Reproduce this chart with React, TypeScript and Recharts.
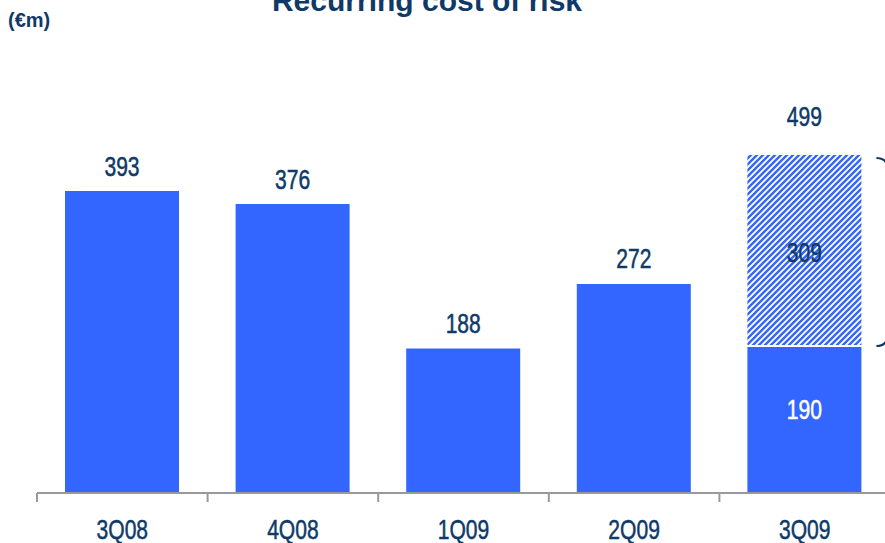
import React from "react"
import { BarChart, Bar, XAxis, YAxis, LabelList } from "recharts"

// Werte aus dem Bild
const quarters = ["3Q08", "4Q08", "1Q09", "2Q09", "3Q09"]
const costOfRisk = [393, 376, 188, 272, 190]
// gestreifter Anteil 3Q09: Beschriftung 309, gezeichnet nicht maßstabsgetreu (~250)
const hatchedDrawn = [null, null, null, null, 250]
const hatchedLabel = [null, null, null, null, 309]
const totalLabel = [null, null, null, null, 499]

const data = quarters.map((q, i) => ({
  quarter: q,
  cost: costOfRisk[i],
  hatched: hatchedDrawn[i],
  hatchedLabel: hatchedLabel[i],
  total: totalLabel[i],
}))

const W = 890
const H = 543
const LEFT = 37
const NAVY = "#0f3a68"
const BLUE = "#3366ff"
const FONT = "'Liberation Sans', Arial, sans-serif"
const BAND = (W - LEFT) / quarters.length

// schmale Schrift nachgebildet: Liberation Sans horizontal gestaucht
function Narrow({ x, y, fill = NAVY, children }: any) {
  return (
    <text
      transform={`translate(${x},${y}) scale(0.78,1)`}
      textAnchor="middle"
      dominantBaseline="central"
      fill={fill}
      stroke={fill}
      strokeWidth={0.5}
      fontFamily={FONT}
      fontSize={27}
    >
      {children}
    </text>
  )
}

function QuarterTick(props: any) {
  const { x, y, payload } = props
  return (
    <g>
      <line x1={x - BAND / 2} x2={x - BAND / 2} y1={y - 8} y2={y + 1} stroke="#999" strokeWidth={2} />
      <Narrow x={x} y={y + 29}>{payload.value}</Narrow>
    </g>
  )
}

function CostLabel(props: any) {
  const { x, y, width, height, index } = props
  const v = costOfRisk[index]
  if (hatchedDrawn[index] != null) {
    return <Narrow x={x + width / 2} y={y + height / 2 - 10} fill="#fff">{v}</Narrow>
  }
  return <Narrow x={x + width / 2} y={y - 25}>{v}</Narrow>
}

function HatchedLabel(props: any) {
  const { x, y, width, height, index } = props
  if (hatchedDrawn[index] == null) return null
  const bx = x + width + 15
  const top = y + 3
  const bot = y + height - 1
  return (
    <g>
      <Narrow x={x + width / 2} y={y + height / 2 + 2}>{hatchedLabel[index]}</Narrow>
      <Narrow x={x + width / 2} y={y - 38}>{totalLabel[index]}</Narrow>
      <path
        d={`M${bx},${top} Q${bx + 12},${top} ${bx + 12},${top + 14} L${bx + 12},${bot - 14} Q${bx + 12},${bot} ${bx},${bot}`}
        fill="none"
        stroke={NAVY}
        strokeWidth={2}
      />
    </g>
  )
}

function HatchedShape(props: any) {
  const { x, y, width, height } = props
  if (!height) return null
  return <rect x={x} y={y} width={width} height={Math.max(height - 2, 0)} fill="url(#stripes)" />
}

export default function App() {
  return (
    <div style={{ position: "absolute", left: 0, top: 0, width: 885, height: H, overflow: "hidden", background: "#fff" }}>
      <BarChart width={W} height={H} data={data} margin={{ top: 32, right: 0, left: LEFT, bottom: 0 }} barSize={114}>
        <defs>
          <pattern id="stripes" patternUnits="userSpaceOnUse" width="6" height="6">
            <rect width="6" height="6" fill="#fff" />
            <path d="M-1.5,1.5 L1.5,-1.5 M0,6 L6,0 M4.5,7.5 L7.5,4.5" stroke={BLUE} strokeWidth={2.4} />
          </pattern>
        </defs>
        <XAxis
          dataKey="quarter"
          axisLine={{ stroke: "#999", strokeWidth: 2 }}
          tickLine={false}
          tick={<QuarterTick />}
          height={50}
          interval={0}
        />
        <YAxis hide domain={[0, 600]} />
        <Bar dataKey="cost" stackId="a" fill={BLUE} isAnimationActive={false}>
          <LabelList dataKey="cost" content={<CostLabel />} />
        </Bar>
        <Bar dataKey="hatched" stackId="a" fill={BLUE} shape={<HatchedShape />} isAnimationActive={false}>
          <LabelList dataKey="hatched" content={<HatchedLabel />} />
        </Bar>
      </BarChart>
      <svg width={885} height={40} style={{ position: "absolute", left: 0, top: 0 }}>
        <text x={427} y={11} textAnchor="middle" fill={NAVY} fontFamily={FONT} fontWeight="bold" fontSize={30}>
          Recurring cost of risk
        </text>
        <text x={8} y={27} fill={NAVY} fontFamily={FONT} fontWeight="bold" fontSize={20}>
          (€m)
        </text>
      </svg>
    </div>
  )
}
